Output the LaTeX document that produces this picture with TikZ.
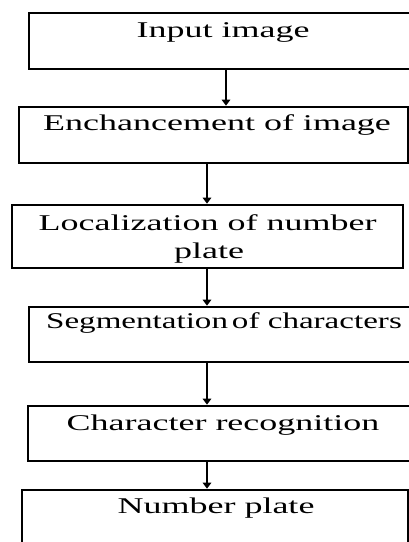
\documentclass[tikz,border=0pt]{standalone}
\usepackage{graphicx}
\usepackage{fontspec}
\setmainfont{Liberation Serif}
\usetikzlibrary{arrows.meta}
\begin{document}
\begin{tikzpicture}[x=1pt,y=-1pt,
  box/.style={draw=black, line width=2.6pt, fill=white, inner sep=0pt, rectangle},
  lbl/.style={anchor=base, inner sep=0pt, font=\fontsize{22.5}{27}\selectfont},
  arr/.style={line width=2.3pt, -{Triangle[length=6pt,width=8.5pt]}}]
\useasboundingbox (0,0) rectangle (409,542);
\clip (0,0) rectangle (409,542);
% boxes
\node[box, minimum width=388pt, minimum height=56pt] (b1) at (223,41) {};
\node[box, minimum width=389pt, minimum height=56pt] (b2) at (213.5,135) {};
\node[box, minimum width=391pt, minimum height=63pt] (b3) at (207.5,236.5) {};
\node[box, minimum width=389pt, minimum height=55pt] (b4) at (223.5,334.5) {};
\node[box, minimum width=390pt, minimum height=55pt] (b5) at (223,433.5) {};
\node[box, minimum width=386pt, minimum height=80pt] (b6) at (215,530) {};
% labels
\node[lbl] (t1) at (223,37) {\scalebox{1.6}[1]{Input image}};
\node[lbl] (t2) at (217,130) {\scalebox{1.6}[1]{Enchancement of image}};
\node[lbl] (t3a) at (207.5,230) {\scalebox{1.6}[1]{Localization of number}};
\node[lbl] (t3b) at (209,258) {\scalebox{1.6}[1]{plate}};
\node[lbl] (t4) at (224,328) {\scalebox{1.47}[1]{Segmentation\hspace{0.12em}of characters}};
\node[lbl] (t5) at (223,430) {\scalebox{1.6}[1]{Character recognition}};
\node[lbl] (t6) at (216,513) {\scalebox{1.6}[1]{Number plate}};
% arrows
\coordinate (xa) at (226,0);
\coordinate (xb) at (207,0);
\draw[arr] (xa |- b1.south) -- (xa |- b2.north);
\draw[arr] (xb |- b2.south) -- (xb |- b3.north);
\draw[arr] (xb |- b3.south) -- (xb |- b4.north);
\draw[arr] (xb |- b4.south) -- (xb |- b5.north);
\draw[arr] (xb |- b5.south) -- (xb |- b6.north);
\end{tikzpicture}
\end{document}
